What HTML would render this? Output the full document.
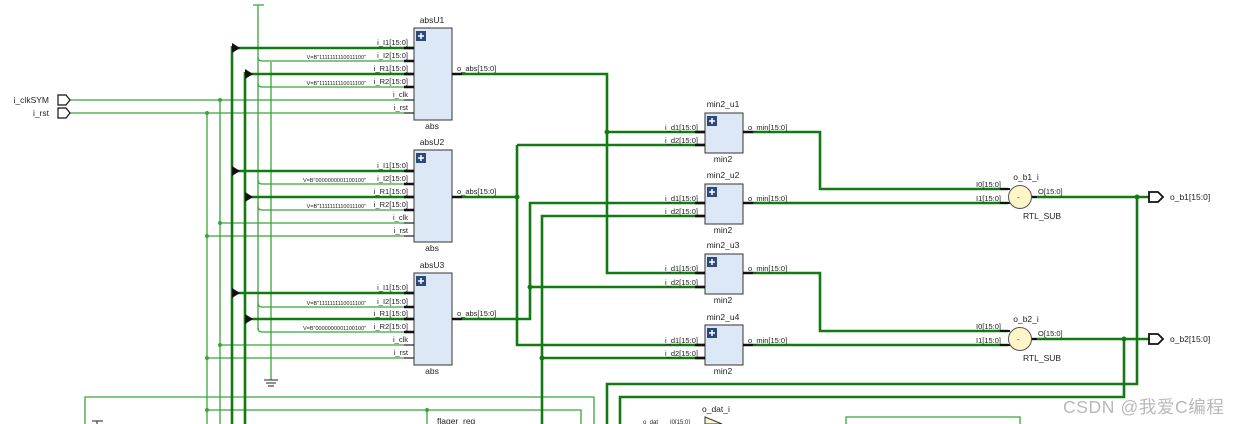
<!DOCTYPE html>
<html><head><meta charset="utf-8"><style>
html,body{margin:0;padding:0;background:#fff;width:1237px;height:424px;overflow:hidden}
svg text{font-family:"Liberation Sans","Noto Sans CJK SC",sans-serif;fill:#222}
</style></head><body>
<svg width="1237" height="424" viewBox="0 0 1237 424" xmlns="http://www.w3.org/2000/svg">
<defs>
<g id="plus"><rect x="0" y="0" width="10" height="10" fill="#2b4a7a"/><path d="M5 2v6M2 5h6" stroke="#fff" stroke-width="1.5"/></g>
</defs>
<g stroke="#3aa53a" stroke-width="1.3" fill="none">
<path d="M70 100H414M70 113H414"/>
<path d="M207 113V424M220 100V424"/>
<path d="M220 223H414M207 236H414M220 345H414M207 358H414"/>
<path d="M258 5V330M253 5H264M271 62V380"/>
<path d="M258 57q0 4 4 4H414M258 83q0 4 4 4H414M258 180q0 4 4 4H414M258 206q0 4 4 4H414M258 303q0 4 4 4H414M258 328q0 4 4 4H414"/>
<path d="M85 424V397H594V424M207 410H581V424M427 410V424"/>
<path d="M846 424V417H1020V424"/>
</g>
<path d="M264 380H278M266 383H276M268 386H274" stroke="#222" stroke-width="1"/>
<path d="M92 421H103M97 421V424" stroke="#222" stroke-width="1"/>
<g fill="#3aa53a">
<circle cx="220" cy="100" r="2"/><circle cx="207" cy="113" r="2"/><circle cx="220" cy="223" r="2"/><circle cx="207" cy="236" r="2"/><circle cx="220" cy="345" r="2"/><circle cx="207" cy="358" r="2"/><circle cx="207" cy="410" r="2"/><circle cx="427" cy="410" r="2"/>
</g>
<g stroke="#137a13" stroke-width="2.6" fill="none">
<path d="M232 46V424M245 72V424"/>
<path d="M232 48H414M245 74H414M232 171H414M245 197H414M232 293H414M245 319H414"/>
<path d="M462 74H607V273H705M607 132H705"/>
<path d="M462 197H517M517 145H705M517 145V345H705"/>
<path d="M462 319H530V203H705M530 287H705"/>
<path d="M542 424V216H705M542 358H705"/>
<path d="M753 132H820V189H1008M753 203H1008"/>
<path d="M753 273H820V331H1008M753 345H1008"/>
<path d="M1031 197H1149M1031 339H1149"/>
<path d="M1137 197V384H607V424M1124 339V397H620V424"/>
</g>
<g fill="#137a13"><circle cx="607" cy="132" r="2.5"/><circle cx="517" cy="197" r="2.5"/><circle cx="530" cy="287" r="2.5"/><circle cx="542" cy="358" r="2.5"/><circle cx="1137" cy="197" r="2.5"/><circle cx="1124" cy="339" r="2.5"/></g>
<g fill="#111">
<path d="M232 43L240 48L232 53Z"/><path d="M245 69L253 74L245 79Z"/>
<path d="M232 166L240 171L232 176Z"/><path d="M245 192L253 197L245 202Z"/>
<path d="M232 288L240 293L232 298Z"/><path d="M245 314L253 319L245 324Z"/>
</g>
<g stroke="#111" stroke-width="1.2" fill="#fff">
<path d="M58 95H66L70 100L66 105H58Z"/><path d="M58 108H66L70 113L66 118H58Z"/>
<path d="M1149 192H1158L1163 197L1158 202H1149Z" stroke-width="1.8"/>
<path d="M1149 334H1158L1163 339L1158 344H1149Z" stroke-width="1.8"/>
</g>
<g font-size="8.5"><text x="49" y="103" text-anchor="end">i_clkSYM</text><text x="49" y="116" text-anchor="end">i_rst</text>
<text x="1170" y="200">o_b1[15:0]</text><text x="1170" y="342">o_b2[15:0]</text></g>
<rect x="414" y="28" width="38" height="92" fill="#dce8f6" stroke="#333" stroke-width="1"/>
<rect x="414" y="150" width="38" height="92" fill="#dce8f6" stroke="#333" stroke-width="1"/>
<rect x="414" y="273" width="38" height="92" fill="#dce8f6" stroke="#333" stroke-width="1"/>
<use href="#plus" x="416" y="31"/><use href="#plus" x="416" y="153"/><use href="#plus" x="416" y="276"/>
<g stroke="#111" stroke-width="2.4">
<path d="M404 48h10M404 61h10M404 74h10M404 87h10M452 74h10"/>
<path d="M404 171h10M404 184h10M404 197h10M404 210h10M452 197h10"/>
<path d="M404 293h10M404 307h10M404 319h10M404 332h10M452 319h10"/>
</g>
<g stroke="#111" stroke-width="1"><path d="M404 100h10M404 113h10M404 223h10M404 236h10M404 345h10M404 358h10"/></g>
<g font-size="7.5" text-anchor="end">
<text x="408" y="45">i_I1[15:0]</text><text x="408" y="58">i_I2[15:0]</text><text x="408" y="71">i_R1[15:0]</text><text x="408" y="84">i_R2[15:0]</text><text x="408" y="97">i_clk</text><text x="408" y="110">i_rst</text>
<text x="408" y="168">i_I1[15:0]</text><text x="408" y="181">i_I2[15:0]</text><text x="408" y="194">i_R1[15:0]</text><text x="408" y="207">i_R2[15:0]</text><text x="408" y="220">i_clk</text><text x="408" y="233">i_rst</text>
<text x="408" y="290">i_I1[15:0]</text><text x="408" y="304">i_I2[15:0]</text><text x="408" y="316">i_R1[15:0]</text><text x="408" y="329">i_R2[15:0]</text><text x="408" y="342">i_clk</text><text x="408" y="355">i_rst</text>
</g>
<g font-size="5.5" text-anchor="end">
<text x="366" y="59">V=B"1111111110011100"</text><text x="366" y="85">V=B"1111111110011100"</text>
<text x="366" y="182">V=B"0000000001100100"</text><text x="366" y="208">V=B"1111111110011100"</text>
<text x="366" y="305">V=B"1111111110011100"</text><text x="366" y="330">V=B"0000000001100100"</text>
</g>
<g font-size="7.5"><text x="457" y="71">o_abs[15:0]</text><text x="457" y="194">o_abs[15:0]</text><text x="457" y="316">o_abs[15:0]</text></g>
<g font-size="8.5" text-anchor="middle">
<text x="432" y="23">absU1</text><text x="432" y="129">abs</text>
<text x="432" y="145">absU2</text><text x="432" y="251">abs</text>
<text x="432" y="268">absU3</text><text x="432" y="374">abs</text>
</g>
<g fill="#dce8f6" stroke="#333" stroke-width="1">
<rect x="705" y="113" width="38" height="40"/><rect x="705" y="184" width="38" height="40"/><rect x="705" y="254" width="38" height="40"/><rect x="705" y="325" width="38" height="40"/>
</g>
<use href="#plus" x="707" y="116"/><use href="#plus" x="707" y="187"/><use href="#plus" x="707" y="257"/><use href="#plus" x="707" y="328"/>
<g stroke="#111" stroke-width="2.4">
<path d="M695 132h10M695 145h10M743 132h10M695 203h10M695 216h10M743 203h10M695 273h10M695 287h10M743 273h10M695 345h10M695 358h10M743 345h10"/>
</g>
<g font-size="7.5">
<text x="665" y="130">i_d1[15:0]</text><text x="665" y="143">i_d2[15:0]</text><text x="748" y="130">o_min[15:0]</text>
<text x="665" y="201">i_d1[15:0]</text><text x="665" y="214">i_d2[15:0]</text><text x="748" y="201">o_min[15:0]</text>
<text x="665" y="271">i_d1[15:0]</text><text x="665" y="285">i_d2[15:0]</text><text x="748" y="271">o_min[15:0]</text>
<text x="665" y="343">i_d1[15:0]</text><text x="665" y="356">i_d2[15:0]</text><text x="748" y="343">o_min[15:0]</text>
</g>
<g font-size="8.5" text-anchor="middle">
<text x="723" y="107">min2_u1</text><text x="723" y="162">min2</text>
<text x="723" y="178">min2_u2</text><text x="723" y="233">min2</text>
<text x="723" y="248">min2_u3</text><text x="723" y="303">min2</text>
<text x="723" y="320">min2_u4</text><text x="723" y="374">min2</text>
</g>
<g stroke="#111" stroke-width="2"><path d="M1000 189h10M1000 203h10M1031 197h6M1000 331h10M1000 345h10M1031 339h6"/></g>
<circle cx="1020" cy="197" r="11.5" fill="#fbf5c8" stroke="#555" stroke-width="1"/>
<circle cx="1020" cy="339" r="11.5" fill="#fbf5c8" stroke="#555" stroke-width="1"/>
<g font-size="7.5"><text x="1017" y="200">-</text><text x="1017" y="342">-</text>
<text x="976" y="187">I0[15:0]</text><text x="976" y="201">I1[15:0]</text><text x="1038" y="194">O[15:0]</text>
<text x="976" y="329">I0[15:0]</text><text x="976" y="343">I1[15:0]</text><text x="1038" y="336">O[15:0]</text></g>
<g font-size="8.5" text-anchor="middle"><text x="1026" y="180">o_b1_i</text><text x="1042" y="219">RTL_SUB</text>
<text x="1026" y="322">o_b2_i</text><text x="1042" y="361">RTL_SUB</text></g>
<path d="M705 417L722 424H705Z" fill="#fbf5c8" stroke="#333" stroke-width="1"/>
<g font-size="8.5"><text x="702" y="412">o_dat_i</text><text x="437" y="424">flager_reg</text></g>
<g font-size="6"><text x="670" y="424">I0[15:0]</text><text x="643" y="424">o_dat</text></g>
<text x="1063" y="413" font-size="17.5" letter-spacing="0.6" style="fill:#b8b8b8">CSDN @我爱C编程</text>
</svg>
</body></html>
